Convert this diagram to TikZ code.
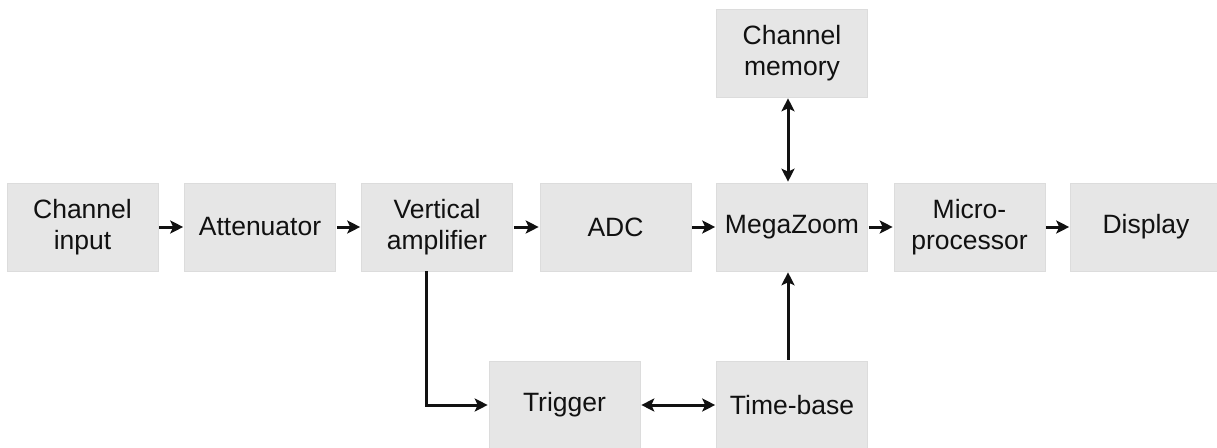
\documentclass[tikz,border=0pt]{standalone}
\usepackage{fontspec}
\setmainfont{Liberation Sans}
\usetikzlibrary{arrows.meta,calc}
\definecolor{boxfill}{HTML}{E6E6E6}
\definecolor{boxedge}{HTML}{DCDCDC}
\definecolor{inkcol}{HTML}{111111}
\begin{document}
\begin{tikzpicture}[x=1pt,y=-1pt,
  blk/.style={fill=boxfill, draw=boxedge, line width=0.6pt, minimum width=151pt, minimum height=88pt, inner sep=0pt, align=center, font=\fontsize{26.5}{31}\selectfont, text=inkcol},
  tip/.tip={Stealth[length=13pt,width=13pt,inset=3pt]},
  conn/.style={line width=3pt, draw=inkcol, -tip, shorten <=1pt, shorten >=1pt},
  conntwo/.style={line width=3pt, draw=inkcol, tip-tip, shorten <=1pt, shorten >=1pt}]
\useasboundingbox (0,0) rectangle (1217,447);
\fill[white] (0,0) rectangle (1217,447);
\node[blk] (cin)  at (82.5,227)  {Channel\\input};
\node[blk] (att)  at (260,227)   {Attenuator};
\node[blk] (vamp) at (437,227)   {Vertical\\amplifier};
\node[blk] (adc)  at (615.5,227) {ADC};
\node[blk] (mz)   at (792,227)   {MegaZoom};
\node[blk] (mp)   at (969.5,227) {Micro-\\processor};
\node[blk] (disp) at (1146,227)  {Display};
\node[blk] (mem)  at (792,53)    {Channel\\memory};
\node[blk] (trig) at (564.5,405) {Trigger};
\node[blk] (tb)   at (792,405)   {Time-base};
\draw[conn] (cin) -- (att);
\draw[conn] (att) -- (vamp);
\draw[conn] (vamp) -- (adc);
\draw[conn] (adc) -- (mz);
\draw[conn] (mz) -- (mp);
\draw[conn] (mp) -- (disp);
\coordinate (mtop) at ($(mz.north)+(-4,0)$);
\coordinate (mbot) at ($(mz.south)+(-4,0)$);
\draw[conntwo] (mem.south -| mtop) -- (mtop);
\draw[conn] (tb.north -| mbot) -- (mbot);
\coordinate (vdown) at ($(vamp.south)+(-11,0)$);
\draw[conn, shorten <=0pt] (vdown) |- (trig.west);
\draw[conntwo] (trig) -- (tb);
\end{tikzpicture}
\end{document}
